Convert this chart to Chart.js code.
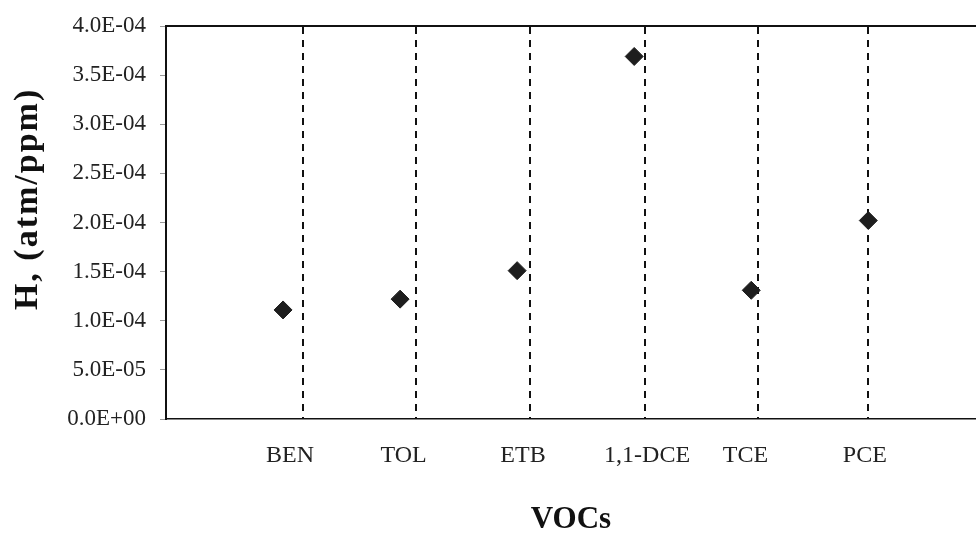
<!DOCTYPE html>
<html lang="en">
<head>
    <meta charset="UTF-8">
    <title>H values of VOCs</title>
    <script src="https://cdn.jsdelivr.net/npm/chart.js@4.4.0/dist/chart.umd.min.js"></script>
    <style>
        html, body {
            margin: 0;
            overflow: hidden;
            background: #fff;
        }
        .chart-box {
            width: 976px;
            height: 535px;
        }
        canvas {
            display: block;
        }
    </style>
</head>
<body>
    <div class="chart-box">
        <canvas id="hChart"></canvas>
    </div>

    <script>
        // data
        const categories = ['BEN', 'TOL', 'ETB', '1,1-DCE', 'TCE', 'PCE'];
        const hValues = [1.11e-4, 1.22e-4, 1.51e-4, 3.69e-4, 1.31e-4, 2.02e-4];
        const labelPos = [1.06, 2.03, 3.05, 4.11, 4.95, 5.97];  // where the names sit under the axis
        const dashPos = [1.17, 2.14, 3.11, 4.09, 5.06, 6.0];    // dashed separator lines
        const yTicks = [0, 5e-5, 1e-4, 1.5e-4, 2e-4, 2.5e-4, 3e-4, 3.5e-4, 4e-4];

        const serif = "'Liberation Serif', 'Times New Roman', serif";

        // 1.5e-4 -> "1.5E-04"
        function sci(v) {
            const parts = Number(v).toExponential(1).split('e');
            const e = parseInt(parts[1], 10);
            return parts[0] + 'E' + (e < 0 ? '-' : '+') + String(Math.abs(e)).padStart(2, '0');
        }

        const points = hValues.map(function(v, i) {
            return { x: i + 1, y: v };
        });

        // y title sits a bit above the middle in the original, so draw it by hand
        const yTitle = {
            id: 'yTitle',
            afterDraw: function(chart) {
                const ctx = chart.ctx;
                const area = chart.chartArea;
                ctx.save();
                ctx.translate(28, area.top + (area.bottom - area.top) * 0.44);
                ctx.rotate(-Math.PI / 2);
                ctx.font = 'bold 34px ' + serif;
                ctx.letterSpacing = '2px';
                ctx.fillStyle = '#111';
                ctx.textAlign = 'center';
                ctx.textBaseline = 'middle';
                ctx.fillText('H, (atm/ppm)', 0, 0);
                ctx.restore();
            }
        };

        new Chart(document.getElementById('hChart'), {
            type: 'scatter',
            data: {
                datasets: [{
                    label: 'H',
                    data: points,
                    pointStyle: 'rectRot',
                    pointRadius: 9,
                    pointHoverRadius: 9,
                    backgroundColor: '#1e1e1e',
                    borderColor: '#1e1e1e',
                    borderWidth: 1
                }]
            },
            options: {
                responsive: true,
                maintainAspectRatio: false,
                animation: false,
                layout: {
                    autoPadding: false,   // plot runs right to the edge of the picture
                    padding: { top: 26, right: 0, left: 0, bottom: 0 }
                },
                plugins: {
                    legend: { display: false },
                    tooltip: { enabled: false }
                },
                scales: {
                    x: {
                        type: 'linear',
                        position: 'bottom',
                        min: 0,
                        max: 6.92,
                        afterBuildTicks: function(scale) {
                            scale.ticks = labelPos.map(function(v) { return { value: v }; });
                        },
                        afterFit: function(scale) {
                            scale.height = 116;
                            scale.paddingLeft = 0;
                            scale.paddingRight = 0;
                        },
                        ticks: {
                            padding: 22,
                            color: '#222',
                            font: { family: serif, size: 24 },
                            maxRotation: 0,
                            callback: function(value, index) {
                                return categories[index];
                            }
                        },
                        grid: { display: false, drawTicks: false },
                        border: { display: true, color: '#111', width: 1.5 },
                        title: {
                            display: true,
                            text: 'VOCs',
                            color: '#111',
                            font: { family: serif, size: 31, weight: 'bold', lineHeight: 1 },
                            padding: { top: 0, bottom: 0 }
                        }
                    },
                    x2: {
                        type: 'linear',
                        position: 'top',
                        min: 0,
                        max: 6.92,
                        afterBuildTicks: function(scale) {
                            scale.ticks = dashPos.map(function(v) { return { value: v }; });
                        },
                        afterFit: function(scale) {
                            scale.paddingLeft = 0;
                            scale.paddingRight = 0;
                        },
                        ticks: { display: false },
                        grid: { color: '#111', lineWidth: 2, drawTicks: false },
                        border: { display: true, color: '#111', width: 2, dash: [7, 6] }
                    },
                    y: {
                        min: 0,
                        max: 4e-4,
                        afterBuildTicks: function(scale) {
                            scale.ticks = yTicks.map(function(v) { return { value: v }; });
                        },
                        afterFit: function(scale) {
                            scale.width = 166;
                            scale.paddingTop = 0;
                            scale.paddingBottom = 0;
                        },
                        ticks: {
                            padding: 14,
                            color: '#222',
                            font: { family: serif, size: 23 },
                            callback: function(value) {
                                return sci(value);
                            }
                        },
                        grid: {
                            drawOnChartArea: false,
                            drawTicks: true,
                            tickLength: 6,
                            tickColor: '#999'
                        },
                        border: { display: true, color: '#111', width: 2 }
                    }
                }
            },
            plugins: [yTitle]
        });
    </script>
</body>
</html>
